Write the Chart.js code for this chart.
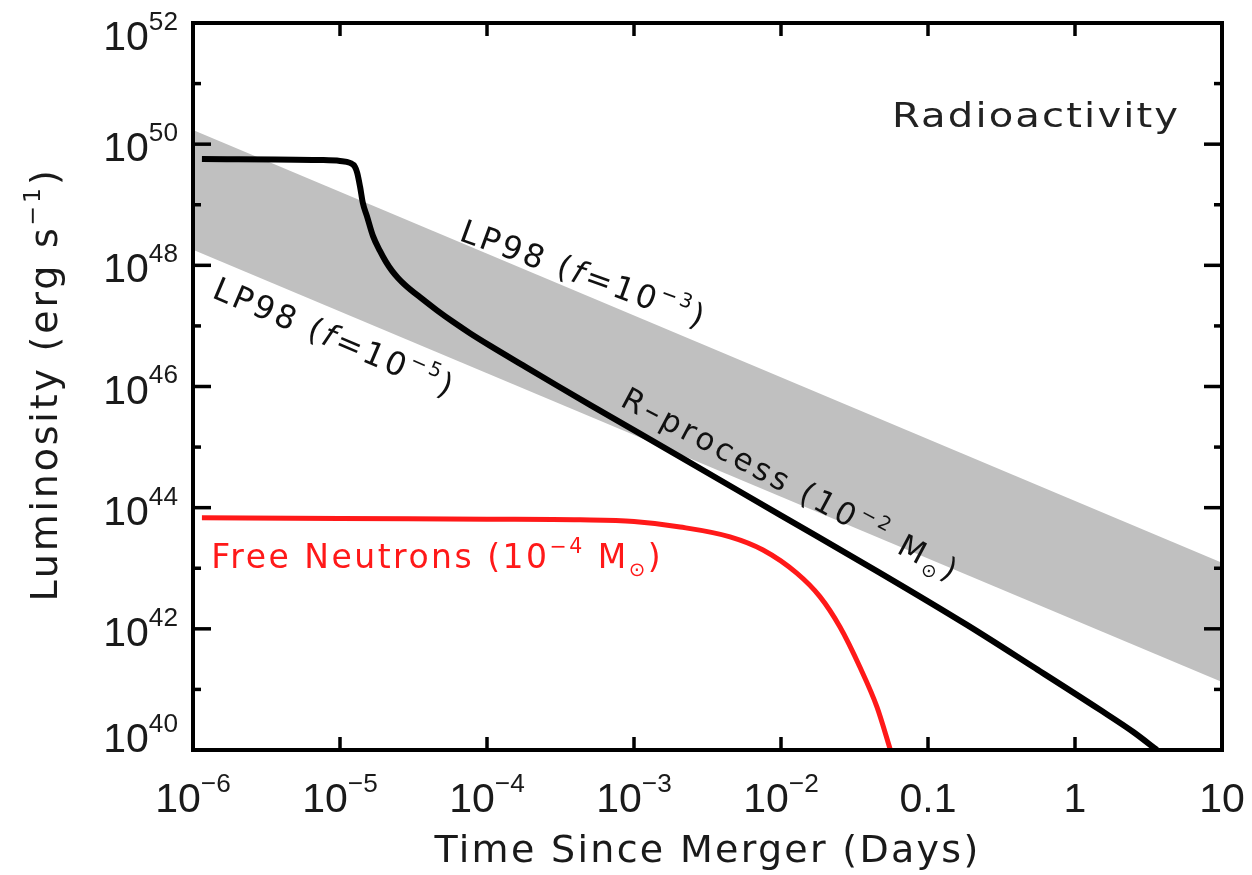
<!DOCTYPE html>
<html>
<head>
<meta charset="utf-8">
<script src="https://cdn.jsdelivr.net/npm/chart.js@4.4.1/dist/chart.umd.min.js"></script>
<style>
  html, body { margin: 0; padding: 0; background: #ffffff; }
  #wrap { width: 1252px; height: 875px; position: relative; }
</style>
</head>
<body>
<div id="wrap"><canvas id="c"></canvas></div>
<script>
// ---------------- data ----------------
// R-process heating, 1e-2 Msun (time in days, luminosity in erg/s)
const rprocTime = [1.15e-6, 7.3e-6, 1.0e-5, 1.17e-5, 1.265e-5, 1.31e-5, 1.37e-5, 1.43e-5, 1.53e-5,
                   1.675e-5, 1.87e-5, 2.055e-5, 2.26e-5, 2.48e-5, 2.77e-5, 3.5e-5, 4.57e-5, 5.87e-5,
                   7.66e-5, 1.047e-4, 1.76e-4, 2.99e-4, 5.02e-4, 2.06e-3, 9.84e-3, 0.0471, 0.184,
                   0.518, 1.48, 2.48, 3.61];
const rprocLum  = [5.7e49, 5.48e49, 5.28e49, 4.9e49, 4.21e49, 3.35e49, 1.97e49, 1.07e49, 6.3e48,
                   3.06e48, 1.73e48, 1.14e48, 8.1e47, 6.2e47, 4.75e47, 2.98e47, 1.81e47, 1.17e47,
                   7.59e46, 4.73e46, 2.23e46, 1.04e46, 4.98e45, 6.9e44, 7.6e43, 8.4e42, 1.16e42,
                   2.36e41, 4.6e40, 2.0e40, 1.0e40];

// Free neutrons, 1e-4 Msun
const neutronTime = [1.15e-6, 1e-5, 1e-4, 4.3e-4, 1e-3, 2.06e-3, 4.5e-3, 7.55e-3, 1.28e-2,
                     1.84e-2, 2.52e-2, 3.44e-2, 4.5e-2, 5.55e-2];
const neutronLum  = [6.8e43, 6.6e43, 6.45e43, 6.3e43, 5.9e43, 4.8e43, 3.3e43, 2.0e43, 8.3e42,
                     3.4e42, 1.07e42, 2.34e41, 5.1e40, 1.0e40];

// LP98 band edges
const lp98Time   = [1e-6, 10];
const lp98HiLum  = [1.71e50, 1.23e43];  // f = 1e-3
const lp98LoLum  = [1.8e48, 1.33e41];   // f = 1e-5

// ticks
const xTickValues = [1e-6, 1e-5, 1e-4, 1e-3, 1e-2, 0.1, 1, 10];
const xTickBase   = ['10', '10', '10', '10', '10', '0.1', '1', '10'];
const xTickExp    = ['\u22126', '\u22125', '\u22124', '\u22123', '\u22122', '', '', ''];
const yTickExps   = [40, 41, 42, 43, 44, 45, 46, 47, 48, 49, 50, 51, 52];
const yLabelExps  = [40, 42, 44, 46, 48, 50, 52];

// ---------------- drawing helpers ----------------
const WORD_FONT = '"DejaVu Sans", sans-serif';
const NUM_FONT = '"Liberation Sans", Arial, sans-serif';

function drawRich(ctx, parts, x, y, angle, o) {
  ctx.save();
  ctx.translate(x, y);
  ctx.rotate(angle);
  if (o.sx) ctx.scale(o.sx, 1);
  ctx.fillStyle = o.color || '#111';
  ctx.textBaseline = 'alphabetic';
  ctx.textAlign = 'left';
  const base = o.size;
  const supScale = o.supScale || 0.62, supRise = o.supRise || 0.45;
  const items = parts.map(p => {
    const kind = p[1] || 'n';
    let size = base, dy = 0, style = '';
    if (kind === 'sup') { size = base * supScale; dy = -base * supRise; }
    else if (kind === 'sub') { size = base * 0.6; dy = base * 0.22; }
    else if (kind === 'i') { style = 'italic '; }
    return { t: p[0], font: style + size.toFixed(1) + 'px ' + (o.family || WORD_FONT), dy };
  });
  let total = 0;
  items.forEach(it => {
    ctx.font = it.font;
    ctx.letterSpacing = (o.spacing || 0) + 'px';
    it.w = ctx.measureText(it.t).width;
    total += it.w;
  });
  let cx = o.align === 'center' ? -total / 2 : (o.align === 'right' ? -total : 0);
  items.forEach(it => {
    ctx.font = it.font;
    ctx.letterSpacing = (o.spacing || 0) + 'px';
    ctx.fillText(it.t, cx, it.dy);
    cx += it.w;
  });
  ctx.restore();
}

// text annotations anchored in data coordinates
const annotations = [
  { parts: [['Radioactivity']], t: 0.0569, L: 1.92e50, angle: 0, size: 34, spacing: 1.8, sx: 1.18, color: '#222' },
  { parts: [['LP98 ('], ['f', 'i'], ['=10'], ['\u22123', 'sup'], [')']], t: 6.35e-5, L: 2.63e48, angle: 20, size: 32, spacing: 3, color: '#111' },
  { parts: [['LP98 ('], ['f', 'i'], ['=10'], ['\u22125', 'sup'], [')']], t: 1.32e-6, L: 3.0e47, angle: 23, size: 32, spacing: 3, color: '#111' },
  { parts: [['R\u2013process (10'], ['\u22122', 'sup'], [' M'], ['\u2299', 'sub'], [')']], t: 7.9e-4, L: 4.9e45, angle: 28, size: 31, spacing: 3.6, color: '#111' },
  { parts: [['Free Neutrons (10'], ['\u22124', 'sup'], [' M'], ['\u2299', 'sub'], [')']], t: 1.33e-6, L: 1.0e43, angle: 0, size: 33, spacing: 2.5, color: 'rgb(255,25,25)' }
];

const framePlugin = {
  id: 'frameAndText',
  afterDraw(chart) {
    const { ctx, chartArea: a, scales: { x, y } } = chart;
    ctx.save();
    // frame
    ctx.strokeStyle = '#000';
    ctx.lineWidth = 4;
    ctx.lineCap = 'butt';
    ctx.strokeRect(a.left, a.top, a.right - a.left, a.bottom - a.top);
    const seg = (x1, y1, x2, y2) => { ctx.beginPath(); ctx.moveTo(x1, y1); ctx.lineTo(x2, y2); ctx.stroke(); };
    ctx.lineWidth = 3.5;
    // x ticks (bottom + top, inward)
    xTickValues.forEach(v => {
      const px = x.getPixelForValue(v);
      seg(px, a.bottom, px, a.bottom - 13);
      seg(px, a.top, px, a.top + 13);
    });
    // y ticks (left + right, inward)
    yTickExps.forEach(e => {
      const py = y.getPixelForValue(Number('1e' + e));
      const len = yLabelExps.includes(e) ? 18 : 8;
      seg(a.left, py, a.left + len, py);
      seg(a.right, py, a.right - len, py);
    });
    ctx.restore();

    // x tick labels
    xTickValues.forEach((v, i) => {
      const px = x.getPixelForValue(v);
      const parts = [[xTickBase[i]]];
      if (xTickExp[i]) parts.push([xTickExp[i], 'sup']);
      drawRich(ctx, parts, px, a.bottom + 62, 0,
        { size: 41, family: NUM_FONT, align: 'center', supScale: 0.64, supRise: 0.49, color: '#1a1a1a' });
    });
    // y tick labels
    yLabelExps.forEach(e => {
      const py = y.getPixelForValue(Number('1e' + e));
      let base = py + 17;
      base = Math.max(base, a.top + 27);
      base = Math.min(base, a.bottom + 2);
      drawRich(ctx, [['10'], [String(e), 'sup']], a.left - 15, base, 0,
        { size: 41, family: NUM_FONT, align: 'right', supScale: 0.64, supRise: 0.49, color: '#1a1a1a' });
    });

    // axis titles
    drawRich(ctx, [['Time Since Merger (Days)']], (a.left + a.right) / 2, 862, 0,
      { size: 38, spacing: 2.3, align: 'center', color: '#1a1a1a' });
    drawRich(ctx, [['Luminosity (erg s'], ['\u22121', 'sup'], [')']], 57, (a.top + a.bottom) / 2 - 2, -Math.PI / 2,
      { size: 38, spacing: 2.8, align: 'center', color: '#1a1a1a' });

    // annotations
    annotations.forEach(an => {
      const px = x.getPixelForValue(an.t);
      const py = y.getPixelForValue(an.L);
      drawRich(ctx, an.parts, px, py, an.angle * Math.PI / 180,
        { size: an.size, spacing: an.spacing, color: an.color, align: 'left', sx: an.sx });
    });
  }
};

const toXY = (ts, ls) => ts.map((t, i) => ({ x: t, y: ls[i] }));

new Chart(document.getElementById('c'), {
  type: 'line',
  data: {
    datasets: [
      { label: 'LP98 (f=1e-3)', data: toXY(lp98Time, lp98HiLum), borderWidth: 0, pointRadius: 0,
        backgroundColor: 'rgb(192,192,192)', borderColor: 'rgba(0,0,0,0)', fill: '+1', order: 10 },
      { label: 'LP98 (f=1e-5)', data: toXY(lp98Time, lp98LoLum), borderWidth: 0, pointRadius: 0,
        borderColor: 'rgba(0,0,0,0)', fill: false, order: 11 },
      { label: 'Free Neutrons', data: toXY(neutronTime, neutronLum), borderColor: 'rgb(255,25,25)',
        borderWidth: 5, pointRadius: 0, fill: false, cubicInterpolationMode: 'monotone', clip: 0, order: 2 },
      { label: 'R-process', data: toXY(rprocTime, rprocLum), borderColor: '#000',
        borderWidth: 6, pointRadius: 0, fill: false, cubicInterpolationMode: 'monotone', clip: 0, order: 1 }
    ]
  },
  options: {
    responsive: true,
    maintainAspectRatio: false,
    animation: false,
    layout: { padding: { left: 193, top: 23, right: 30, bottom: 125 } },
    plugins: { legend: { display: false }, tooltip: { enabled: false } },
    scales: {
      x: { type: 'logarithmic', min: 1e-6, max: 10, display: false },
      y: { type: 'logarithmic', min: 1e40, max: 1e52, display: false }
    }
  },
  plugins: [framePlugin]
});
</script>
</body>
</html>
